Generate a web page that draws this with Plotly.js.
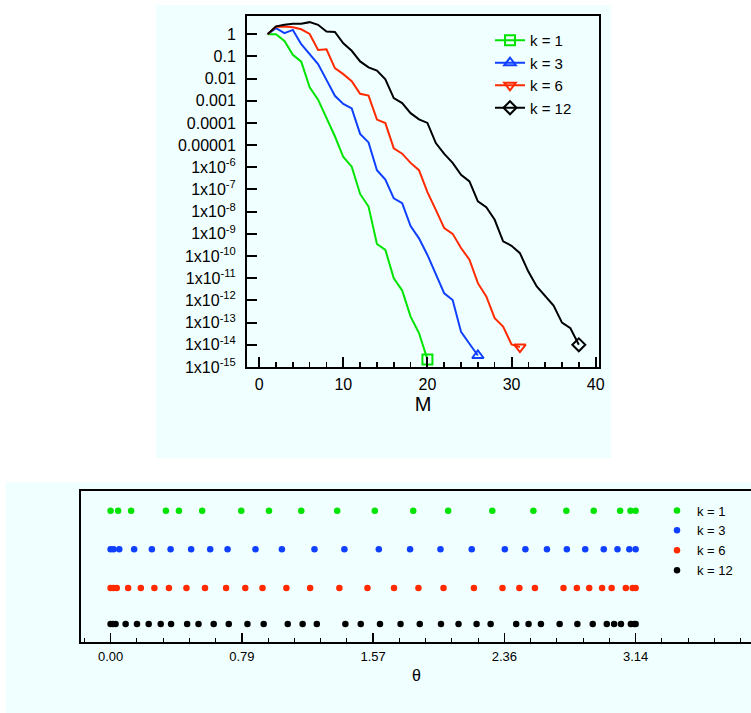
<!DOCTYPE html>
<html><head><meta charset="utf-8">
<script src="https://cdn.plot.ly/plotly-3.0.1.min.js"></script>
<style>html,body{margin:0;padding:0;overflow:hidden;background:#fff;} #chart{width:760px;height:713px;}</style>
</head><body><div id="chart"></div>
<script>
// ---------- Top chart data: error vs M ----------
const seriesNames = ["k = 1", "k = 3", "k = 6", "k = 12"];
const mK1 = [1,2,3,4,5,6,7,8,9,10,11,12,13,14,15,16,17,18,19,20];
const errK1 = [1,1,0.49,0.117,0.0575,4.0e-3,1.12e-3,1.78e-4,2.5e-5,2.9e-6,1.07e-6,6.3e-8,1.7e-8,3.5e-10,1.9e-10,1.0e-11,2.8e-12,1.86e-13,3.4e-14,2.2e-15];
const mK3 = [1,2,3,4,5,6,7,8,9,10,11,12,13,14,15,16,17,18,19,20,21,22,23,24,25,26];
const errK3 = [1,1.86,1.1,1.55,0.35,0.126,0.0447,8.7e-3,1.66e-3,7.1e-4,4.5e-4,3.2e-5,1.32e-5,7.4e-7,2.8e-7,4.0e-8,2.4e-8,2.24e-9,6.3e-10,1.12e-10,1.6e-11,2.1e-12,1.05e-12,3.8e-14,1.12e-14,3.3e-15];
const mK6 = [1,2,3,4,5,6,7,8,9,10,11,12,13,14,15,16,17,18,19,20,21,22,23,24,25,26,27,28,29,30,31];
const errK6 = [1,2.14,2.19,2.04,1.66,1.02,0.195,0.209,0.0295,0.0158,7.6e-3,2.04e-3,1.7e-3,1.41e-4,9.8e-5,7.1e-6,4.1e-6,1.58e-6,7.4e-7,7.6e-8,1.2e-8,1.82e-9,1.0e-9,2.3e-10,6.8e-11,6.0e-12,1.51e-12,1.58e-13,6.6e-14,1.05e-14,7.9e-15];
const mK12 = [1,2,3,4,5,6,7,8,9,10,11,12,13,14,15,16,17,18,19,20,21,22,23,24,25,26,27,28,29,30,31,32,33,34,35,36,37,38];
const errK12 = [1,2.24,2.63,2.95,2.95,3.47,2.63,1.32,1.26,0.389,0.178,0.0589,0.0316,0.0229,9.3e-3,1.32e-3,7.8e-4,2.75e-4,1.45e-4,1.0e-4,1.23e-5,4.0e-6,1.58e-6,4.6e-7,2.3e-7,2.9e-8,1.58e-8,4.3e-9,4.6e-10,2.9e-10,1.35e-10,2.0e-11,4.3e-12,1.51e-12,5.8e-13,1.0e-13,5.6e-14,1.0e-14];

const yTickVals = [1,0.1,0.01,0.001,0.0001,0.00001,1e-6,1e-7,1e-8,1e-9,1e-10,1e-11,1e-12,1e-13,1e-14,1e-15];
const yTickText = ["1","0.1","0.01","0.001","0.0001","0.00001",
  "1x10<sup>-6</sup>","1x10<sup>-7</sup>","1x10<sup>-8</sup>","1x10<sup>-9</sup>","1x10<sup>-10</sup>",
  "1x10<sup>-11</sup>","1x10<sup>-12</sup>","1x10<sup>-13</sup>","1x10<sup>-14</sup>","1x10<sup>-15</sup>"];
const xTickVals = [0,10,20,30,40];

// ---------- Bottom chart data: theta nodes ----------
const thetaK1 = [0,0.045,0.123,0.331,0.409,0.548,0.782,0.948,1.141,1.356,1.581,1.811,2.020,2.284,2.530,2.727,2.891,3.049,3.111,3.1416];
const thetaK3 = [0,0.018,0.052,0.141,0.247,0.359,0.482,0.596,0.700,0.867,1.025,1.220,1.399,1.605,1.792,1.974,2.161,2.359,2.482,2.611,2.730,2.840,2.951,3.033,3.104,3.1416];
const thetaK6 = [0,0.017,0.037,0.105,0.181,0.262,0.349,0.454,0.565,0.691,0.806,0.909,1.052,1.194,1.369,1.537,1.696,1.842,1.992,2.174,2.345,2.446,2.539,2.710,2.790,2.864,2.941,2.998,3.083,3.124,3.1416];
const thetaK12 = [0,0.014,0.030,0.090,0.158,0.228,0.300,0.362,0.458,0.526,0.617,0.707,0.819,0.916,1.060,1.149,1.234,1.405,1.497,1.612,1.735,1.850,1.977,2.082,2.190,2.274,2.427,2.501,2.575,2.687,2.793,2.885,2.969,3.013,3.054,3.113,3.132,3.1416];
const rowPos = [4, 3, 2, 1.07];
const thetaTickVals = [0, Math.PI/4, Math.PI/2, 3*Math.PI/4, Math.PI];
const thetaTickText = ["0.00","0.79","1.57","2.36","3.14"];

// ---------- styles ----------
const colors = ["#00e400", "#1040ff", "#ff2a00", "#000000"];
const symbols = ["square-open", "triangle-up-open", "triangle-down-open", "diamond-open"];
const W = 760, H = 713;
const fx = p => p / W;
const fy = p => 1 - p / H;
const FONT = "Liberation Sans, Arial, Helvetica, sans-serif";

const mSets = [mK1, mK3, mK6, mK12];
const eSets = [errK1, errK3, errK6, errK12];
const tSets = [thetaK1, thetaK3, thetaK6, thetaK12];

const traces = [];
for (let i = 0; i < 4; i++) {
  traces.push({
    x: mSets[i], y: eSets[i], xaxis: "x", yaxis: "y",
    mode: "lines", line: {color: colors[i], width: 2},
    showlegend: false, legendgroup: "g" + i, hoverinfo: "skip"
  });
}
for (let i = 0; i < 4; i++) {
  const n = mSets[i].length;
  traces.push({
    x: mSets[i].slice(n - 1), y: eSets[i].slice(n - 1), xaxis: "x", yaxis: "y",
    mode: "lines+markers", name: seriesNames[i], legend: "legend", legendgroup: "g" + i,
    line: {color: colors[i], width: 2},
    marker: {symbol: symbols[i], size: 10, color: colors[i], line: {color: colors[i], width: 2}}
  });
}
for (let i = 0; i < 4; i++) {
  traces.push({
    x: tSets[i], y: tSets[i].map(() => rowPos[i]), xaxis: "x2", yaxis: "y2",
    mode: "markers", name: seriesNames[i], legend: "legend2",
    marker: {symbol: "circle", size: 6.5, color: colors[i]}
  });
}

const layout = {
  width: W, height: H,
  margin: {l: 0, r: 0, t: 0, b: 0},
  paper_bgcolor: "#ffffff", plot_bgcolor: "rgba(0,0,0,0)",
  font: {family: FONT, color: "#000"},
  showlegend: true,
  shapes: [
    {type: "rect", xref: "paper", yref: "paper", x0: fx(156), x1: fx(611), y0: fy(458), y1: fy(5),
     fillcolor: "#f0ffff", line: {width: 0}, layer: "below"},
    {type: "rect", xref: "paper", yref: "paper", x0: fx(6), x1: 1, y0: 0, y1: fy(482),
     fillcolor: "#f0ffff", line: {width: 0}, layer: "below"}
  ],
  xaxis: {
    domain: [fx(247), fx(599)], range: [-1.45, 40.4], anchor: "y",
    showline: true, mirror: true, linewidth: 2, linecolor: "#000",
    showgrid: false, zeroline: false,
    tickmode: "array", tickvals: xTickVals, ticks: "inside", ticklen: 10, tickwidth: 2, tickcolor: "#000",
    minor: {tickmode: "linear", tick0: 0, dtick: 2, ticks: "inside", ticklen: 5, tickwidth: 1.5, tickcolor: "#000", showgrid: false},
    tickfont: {size: 16}, ticklabelstandoff: 2,
    title: {text: "M", font: {size: 20}, standoff: 5}
  },
  yaxis: {
    domain: [fy(367), fy(15.5)], type: "log", range: [-15, 0.84], anchor: "x",
    showline: true, mirror: true, linewidth: 2, linecolor: "#000",
    showgrid: false, zeroline: false,
    tickmode: "array", tickvals: yTickVals, ticktext: yTickText,
    ticks: "inside", ticklen: 10, tickwidth: 2, tickcolor: "#000",
    tickfont: {size: 16}, ticklabelstandoff: 6
  },
  xaxis2: {
    domain: [fx(81), fx(752)], range: [-0.177, 3.838], anchor: "y2",
    showline: true, mirror: true, linewidth: 2, linecolor: "#000",
    showgrid: false, zeroline: false,
    tickmode: "array", tickvals: thetaTickVals, ticktext: thetaTickText,
    ticks: "inside", ticklen: 9, tickwidth: 1.5, tickcolor: "#000",
    minor: {tickmode: "linear", tick0: 0, dtick: Math.PI / 20, ticks: "inside", ticklen: 4, tickwidth: 1, tickcolor: "#000", showgrid: false},
    tickfont: {size: 13}, ticklabelstandoff: 1,
    title: {text: "θ", font: {size: 16}, standoff: 7}
  },
  yaxis2: {
    domain: [fy(642.3), fy(491)], range: [0.596, 4.51], anchor: "x2",
    showline: true, mirror: true, linewidth: 2, linecolor: "#000",
    showgrid: false, zeroline: false, showticklabels: false, ticks: ""
  },
  legend: {
    x: fx(490), y: fy(24), xanchor: "left", yanchor: "top",
    bgcolor: "rgba(0,0,0,0)", borderwidth: 0, font: {size: 15}, tracegroupgap: 0
  },
  legend2: {
    x: fx(657), y: fy(495.5), xanchor: "left", yanchor: "top",
    bgcolor: "rgba(0,0,0,0)", borderwidth: 0, font: {size: 13}
  }
};

Plotly.newPlot("chart", traces, layout, {displayModeBar: false, staticPlot: true});
</script>
</body></html>
